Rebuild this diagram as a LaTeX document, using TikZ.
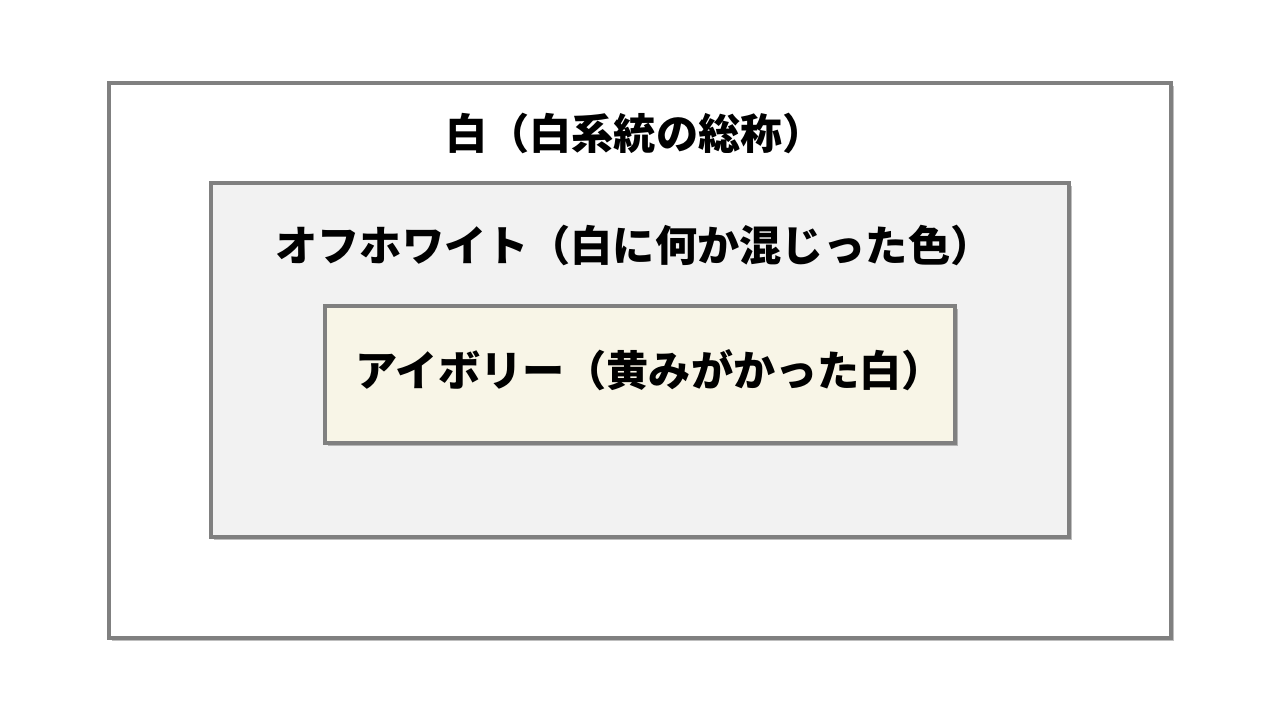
\documentclass[tikz,border=0pt]{standalone}
\usepackage{fontspec}
\newfontfamily\jpfont{Noto Sans CJK JP}
\usetikzlibrary{shadows}
\definecolor{boxline}{HTML}{808080}
\definecolor{offwhite}{HTML}{F2F2F2}
\definecolor{ivory}{HTML}{F8F5E7}
\tikzset{
	colorbox/.style={draw=boxline, line width=2.2pt, inner sep=0pt,
		drop shadow={shadow xshift=1.8pt, shadow yshift=-1.8pt, opacity=0.25, fill=black}}
}
\tikzstyle{label}=[font=\jpfont\bfseries\fontsize{24}{29}\selectfont, text=black, inner sep=0pt]
\begin{document}
\begin{tikzpicture}
	\useasboundingbox (0,0) rectangle (25.6,14.4);
	% nested boxes
	\node[colorbox, fill=white, minimum width=21.24cm, minimum height=11.1cm] (white) at (12.8,7.19) {};
	\node[colorbox, fill=offwhite, minimum width=17.16cm, minimum height=7.08cm] (offwhitebox) at (12.8,7.2) {};
	\node[colorbox, fill=ivory, minimum width=12.6cm, minimum height=2.74cm] (ivorybox) at (12.8,6.91) {};
	% labels
	\node[label] (whitetext) at (12.7,11.73) {白（白系統の総称）};
	\node[label] (offwhitetext) at (12.68,9.5) {オフホワイト（白に何か混じった色）};
	\node[label] (ivorytext) at (13.0,7.0) {アイボリー（黄みがかった白）};
\end{tikzpicture}
\end{document}
